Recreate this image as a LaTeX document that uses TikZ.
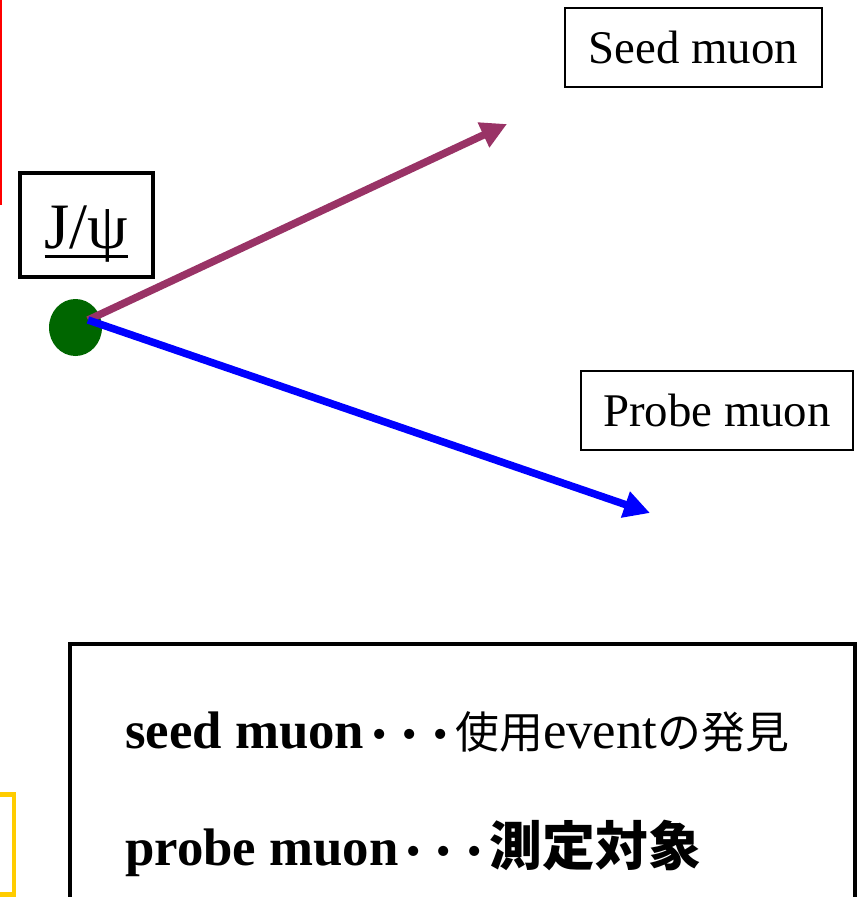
\documentclass[tikz,border=0pt]{standalone}
\usepackage{fontspec}
\setmainfont{Liberation Serif}
\newfontfamily\cjk{Noto Sans CJK JP}
\usetikzlibrary{arrows.meta, shapes.geometric}

\definecolor{seedpurple}{RGB}{153,51,102}
\definecolor{vtxgreen}{RGB}{0,102,0}
\definecolor{frameyellow}{RGB}{255,204,0}

\newcommand{\roledots}{\raisebox{-9bp}{\cjk\fontsize{61}{61}\selectfont ･･･}}
\newcommand{\thickul}[1]{\setbox0\hbox{#1}\rlap{\rule[-10bp]{\wd0}{3bp}}\box0}

\begin{document}
\begin{tikzpicture}[
    x=1bp, y=-1bp,
    label box/.style={
        rectangle,
        draw=black,
        line width=1.6bp,
        minimum width=257bp,
        minimum height=79bp,
        text height=31bp,
        text depth=0pt,
        inner sep=0pt,
        font=\fontsize{47}{56}\selectfont
    },
    particle box/.style={
        rectangle,
        draw=black,
        line width=3.5bp,
        minimum width=133bp,
        minimum height=104bp,
        text height=46bp,
        text depth=0pt,
        inner sep=0pt,
        font=\fontsize{65}{74}\selectfont
    },
    vertex/.style={
        ellipse,
        fill=vtxgreen,
        minimum width=53bp,
        minimum height=57bp,
        inner sep=0pt
    },
    track/.style={
        -{Triangle[length=26bp, width=26bp]},
        line width=7.5bp
    },
    legend line/.style={
        anchor=base west,
        inner sep=0pt,
        font=\fontsize{53}{60}\selectfont
    }
]

\useasboundingbox (0,0) rectangle (858,897);
\clip (0,0) rectangle (858,897);

% pieces of neighbouring slide objects
\draw[red, line width=2bp] (1,0) -- (1,205);
\draw[frameyellow, line width=4.5bp] (-20,794.5) rectangle (14,894.5);

% decay
\node[particle box] (jpsi) at (86.5,225) {\thickul{J/ψ}};
\node[vertex] (vtx) at (75.5,327.5) {};
\coordinate (origin) at (88,320);
\coordinate (seedtip) at (507,124);
\coordinate (probetip) at (650,513);

\draw[track, seedpurple] (origin) -- (seedtip);
\draw[track, blue] (origin) -- (probetip);

\node[label box] (seed) at (693.5,47.5) {Seed muon};
\node[label box, minimum width=272bp] (probe) at (717,410.5) {Probe muon};

% legend
\draw[line width=4bp] (70,910) -- (70,644) -- (855,644) -- (855,910);
\node[legend line] (seedrole) at (125,748)
    {\textbf{seed muon}\roledots{\cjk\fontsize{44}{56}\selectfont 使用}event{\cjk\fontsize{44}{56}\selectfont の発見}};
\node[legend line] (proberole) at (125,865)
    {\textbf{probe muon}\roledots{\cjk\bfseries 測定対象}};

\end{tikzpicture}
\end{document}
